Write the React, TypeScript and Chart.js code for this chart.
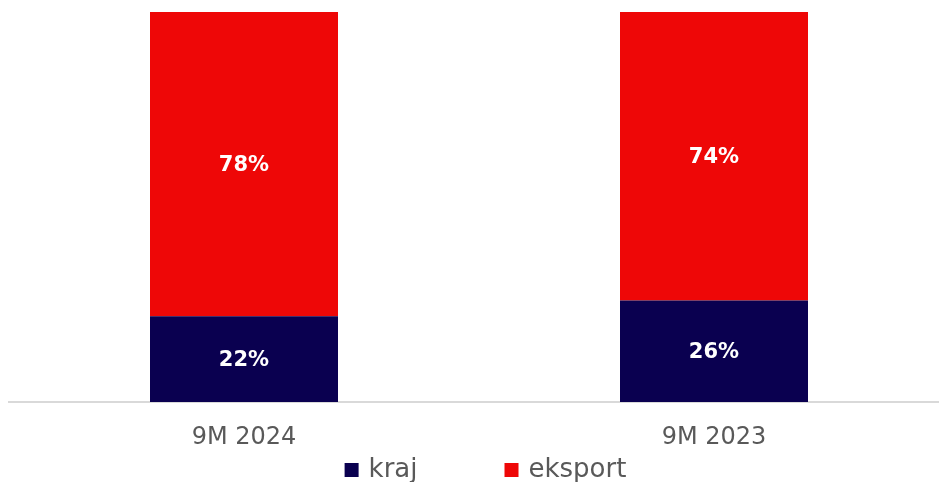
import { useEffect, useRef } from "react";
import { Chart, registerables } from "chart.js";

Chart.register(...registerables);

const categories = ["9M 2024", "9M 2023"];
const seriesNames = ["kraj", "eksport"];
const krajValues = [22, 26];
const eksportValues = [78, 74];
const seriesColors = ["#0a0050", "#ee0707"];

const FONT = "'DejaVu Sans', sans-serif";

const valueLabels = {
  id: "valueLabels",
  afterDatasetsDraw(chart: any) {
    const ctx = chart.ctx;
    ctx.save();
    ctx.fillStyle = "#ffffff";
    ctx.font = `bold 21px ${FONT}`;
    ctx.textAlign = "center";
    ctx.textBaseline = "middle";
    chart.data.datasets.forEach((ds: any, i: number) => {
      const meta = chart.getDatasetMeta(i);
      meta.data.forEach((el: any, j: number) => {
        const v = ds.data[j];
        const { x, y, base } = el.getProps(["x", "y", "base"], true);
        ctx.fillText(`${v}%`, x, (y + base) / 2 + 1);
      });
    });
    ctx.restore();
  },
};

const bottomLegend = {
  id: "bottomLegend",
  afterDraw(chart: any) {
    const ctx = chart.ctx;
    ctx.save();
    ctx.font = `26px ${FONT}`;
    const box = 14;
    const gapText = 10;
    const gapItem = 87;
    const widths = chart.data.datasets.map(
      (ds: any) => box + gapText + ctx.measureText(ds.label).width
    );
    const total =
      widths.reduce((a: number, b: number) => a + b, 0) + gapItem * (widths.length - 1);
    let x = 485.5 - total / 2;
    const baseline = 477;
    chart.data.datasets.forEach((ds: any, i: number) => {
      ctx.fillStyle = ds.backgroundColor;
      ctx.fillRect(x, baseline - box, box, box);
      ctx.fillStyle = "#595959";
      ctx.textAlign = "left";
      ctx.textBaseline = "alphabetic";
      ctx.fillText(ds.label, x + box + gapText, baseline);
      x += widths[i] + gapItem;
    });
    ctx.restore();
  },
};

export default function App() {
  const ref = useRef<HTMLCanvasElement>(null);

  useEffect(() => {
    if (!ref.current) return;
    Chart.defaults.font.family = FONT;
    const chart = new Chart(ref.current, {
      type: "bar",
      data: {
        labels: categories,
        datasets: [
          {
            label: seriesNames[0],
            data: krajValues,
            backgroundColor: seriesColors[0],
            barPercentage: 1,
            categoryPercentage: 0.4,
          },
          {
            label: seriesNames[1],
            data: eksportValues,
            backgroundColor: seriesColors[1],
            barPercentage: 1,
            categoryPercentage: 0.4,
          },
        ],
      },
      options: {
        responsive: false,
        animation: false,
        layout: { padding: { left: 9, right: 1, top: 12, bottom: 0 } },
        plugins: {
          legend: { display: false },
          tooltip: { enabled: false },
        },
        scales: {
          x: {
            stacked: true,
            grid: { display: false, drawTicks: false },
            border: { display: true, color: "#d9d9d9", width: 2 },
            ticks: {
              color: "#595959",
              font: { size: 24, family: FONT },
              padding: 21,
            },
            afterFit: (s: any) => {
              s.height = 80;
            },
          },
          y: {
            stacked: true,
            display: false,
            min: 0,
            max: 100,
          },
        },
      },
      plugins: [valueLabels, bottomLegend],
    });
    return () => chart.destroy();
  }, []);

  return (
    <div
      style={{
        position: "absolute",
        left: 0,
        top: 0,
        width: 939,
        height: 482,
        overflow: "hidden",
      }}
    >
      <canvas ref={ref} width={950} height={482} style={{ display: "block" }} />
    </div>
  );
}
